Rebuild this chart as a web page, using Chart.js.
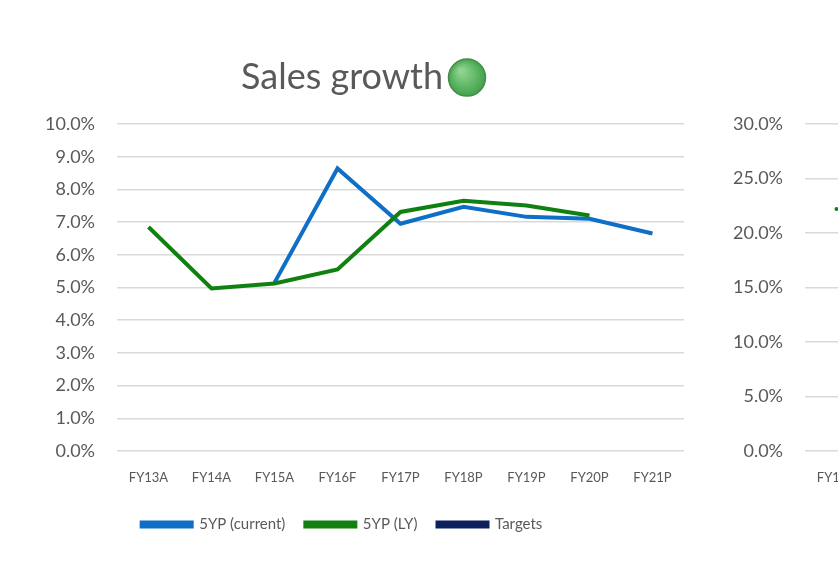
<!DOCTYPE html>
<html>
<head>
<meta charset="utf-8">
<script src="https://cdn.jsdelivr.net/npm/chart.js@4.4.0/dist/chart.umd.min.js"></script>
<style>
    body { margin: 0; background: #ffffff; }
    #pagina { position: relative; width: 838px; height: 576px; overflow: hidden; background: #ffffff; }
    .caixa { position: absolute; top: 0; width: 700px; height: 576px; }
</style>
</head>
<body>
<div id="pagina">
    <div class="caixa" style="left: 0px;"><canvas id="grafico-vendas" width="700" height="576"></canvas></div>
    <div class="caixa" style="left: 688px;"><canvas id="grafico-direita" width="700" height="576"></canvas></div>
</div>
<script>
// Dados
const categorias = ['FY13A', 'FY14A', 'FY15A', 'FY16F', 'FY17P', 'FY18P', 'FY19P', 'FY20P', 'FY21P'];
const atual5YP = [null, null, 5.15, 8.64, 6.95, 7.47, 7.16, 7.10, 6.65];
const ly5YP = [6.85, 4.97, 5.12, 5.55, 7.31, 7.65, 7.51, 7.20, null];
const metas = [null, null, null, null, null, null, null, null, null];
const ly5YPDireita = [22.2, null, null, null, null, null, null, null, null];
const ticksEsquerda = { max: 10, passo: 1 };
const ticksDireita = { max: 30, passo: 5 };

const CINZA = '#595959';
const FONTE = 'Lato, "Open Sans", sans-serif';

// bolinha verde ao lado do titulo
const bolinhaTitulo = {
    id: 'bolinhaTitulo',
    afterDraw(chart) {
        const t = chart.titleBlock;
        if (!t || !chart.options.plugins.title.display) return;
        const ctx = chart.ctx;
        const opts = chart.options.plugins.title;
        ctx.save();
        ctx.font = opts.font.size + 'px ' + FONTE;
        const largura = ctx.measureText(opts.text).width;
        const cx = (t.left + t.right) / 2 + largura / 2 + 5 + 19;
        const cy = t.top + opts.padding.top + opts.font.size * 1.2 / 2;
        const grad = ctx.createRadialGradient(cx - 6, cy - 7, 2, cx, cy, 19);
        grad.addColorStop(0, '#8fd48f');
        grad.addColorStop(1, '#3fa24a');
        ctx.beginPath();
        ctx.arc(cx, cy, 18.5, 0, Math.PI * 2);
        ctx.fillStyle = grad;
        ctx.fill();
        ctx.lineWidth = 1.5;
        ctx.strokeStyle = '#4a8a4a';
        ctx.stroke();
        ctx.restore();
    }
};

function opcoes(ticks, titulo) {
    return {
        responsive: false,
        animation: false,
        layout: { padding: { left: 0, right: 16, top: 0, bottom: 34 } },
        plugins: {
            title: {
                display: titulo !== '',
                text: titulo,
                color: CINZA,
                font: { family: FONTE, size: 36, weight: 'normal' },
                padding: { top: 56, bottom: 24.8 }
            },
            legend: {
                position: 'bottom',
                labels: {
                    color: CINZA,
                    font: { family: FONTE, size: 15 },
                    boxWidth: 50,
                    boxHeight: 4,
                    padding: 20
                }
            },
            tooltip: { enabled: false }
        },
        scales: {
            x: {
                offset: true,
                grid: { display: false, drawTicks: false },
                border: { display: false },
                ticks: { color: CINZA, font: { family: FONTE, size: 13 }, padding: 19, maxRotation: 0 },
                afterFit: (s) => { s.height = 46; }
            },
            y: {
                min: 0,
                max: ticks.max,
                grid: { color: '#d9d9d9', lineWidth: 1.5, drawTicks: false },
                border: { display: false },
                ticks: {
                    stepSize: ticks.passo,
                    color: CINZA,
                    font: { family: FONTE, size: 18 },
                    padding: 22,
                    callback: (v) => v.toFixed(1) + '%'
                },
                afterFit: (s) => { s.width = 117; }
            }
        }
    };
}

function linha(rotulo, dados, cor, ordem) {
    return {
        label: rotulo,
        data: dados,
        borderColor: cor,
        backgroundColor: cor,
        borderWidth: 4,
        pointRadius: 0,
        tension: 0,
        spanGaps: false,
        order: ordem
    };
}

window.addEventListener('load', () => {
    const opEsq = opcoes(ticksEsquerda, 'Sales growth');
    opEsq.plugins.legend.labels.sort = (a, b) => a.datasetIndex - b.datasetIndex;
    new Chart(document.getElementById('grafico-vendas'), {
        type: 'line',
        data: {
            labels: categorias,
            datasets: [
                linha('5YP (current)', atual5YP, '#0f6fc6', 2),
                linha('5YP (LY)', ly5YP, '#108010', 1),
                linha('Targets', metas, '#0d1f5c', 3)
            ]
        },
        options: opEsq,
        plugins: [bolinhaTitulo]
    });

    const opDir = opcoes(ticksDireita, '');
    opDir.layout.padding.top = 124;
    const verdeDir = linha('5YP (LY)', ly5YPDireita, '#108010', 1);
    verdeDir.pointRadius = 2;
    verdeDir.pointBorderWidth = 0;
    new Chart(document.getElementById('grafico-direita'), {
        type: 'line',
        data: { labels: categorias, datasets: [verdeDir] },
        options: opDir
    });
});
</script>
</body>
</html>
